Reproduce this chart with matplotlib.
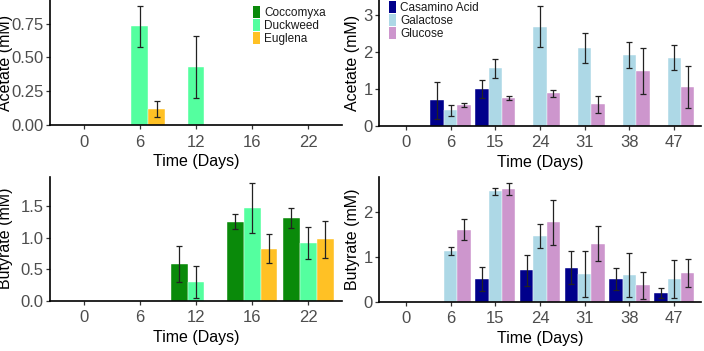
import matplotlib
matplotlib.use("Agg")
import matplotlib.pyplot as plt
from matplotlib.patches import Patch
import numpy as np

# ---------------- data ----------------
algae_days = ["0", "6", "12", "16", "22"]
algae_groups = ["Coccomyxa", "Duckweed", "Euglena"]
algae_colors = ["#0A8A0A", "#54FF9F", "#FFC125"]

acetate_algae = {
    "Coccomyxa": [0, 0, 0, 0, 0],
    "Duckweed":  [0, 0.73, 0.43, 0, 0],
    "Euglena":   [0, 0.12, 0, 0, 0],
}
acetate_algae_err = {
    "Coccomyxa": [0, 0, 0, 0, 0],
    "Duckweed":  [0, 0.15, 0.23, 0, 0],
    "Euglena":   [0, 0.06, 0, 0, 0],
}
butyrate_algae = {
    "Coccomyxa": [0, 0, 0.58, 1.25, 1.31],
    "Duckweed":  [0, 0, 0.30, 1.47, 0.91],
    "Euglena":   [0, 0, 0, 0.82, 0.97],
}
butyrate_algae_err = {
    "Coccomyxa": [0, 0, 0.28, 0.12, 0.16],
    "Duckweed":  [0, 0, 0.25, 0.40, 0.25],
    "Euglena":   [0, 0, 0, 0.23, 0.29],
}

sugar_days = ["0", "6", "15", "24", "31", "38", "47"]
sugar_groups = ["Casamino Acid", "Galactose", "Glucose"]
sugar_colors = ["#00008B", "#ADD8E6", "#CD96CD"]

acetate_sugar = {
    "Casamino Acid": [0, 0.68, 0.98, 0, 0, 0, 0],
    "Galactose":     [0, 0.42, 1.55, 2.67, 2.10, 1.91, 1.83],
    "Glucose":       [0, 0.55, 0.75, 0.87, 0.58, 1.47, 1.04],
}
acetate_sugar_err = {
    "Casamino Acid": [0, 0.50, 0.24, 0, 0, 0, 0],
    "Galactose":     [0, 0.15, 0.25, 0.56, 0.40, 0.35, 0.34],
    "Glucose":       [0, 0.05, 0.05, 0.09, 0.23, 0.62, 0.56],
}
butyrate_sugar = {
    "Casamino Acid": [0, 0, 0.50, 0.70, 0.76, 0.50, 0.19],
    "Galactose":     [0, 1.13, 2.46, 1.46, 0.61, 0.59, 0.50],
    "Glucose":       [0, 1.61, 2.52, 1.77, 1.29, 0.37, 0.64],
}
butyrate_sugar_err = {
    "Casamino Acid": [0, 0, 0.27, 0.34, 0.37, 0.25, 0.11],
    "Galactose":     [0, 0.09, 0.07, 0.27, 0.51, 0.49, 0.42],
    "Glucose":       [0, 0.23, 0.13, 0.50, 0.39, 0.30, 0.32],
}

# ---------------- style ----------------
NARROW = ["Liberation Sans Narrow", "Liberation Sans", "DejaVu Sans"]
REG = ["Liberation Sans", "DejaVu Sans"]
plt.rcParams["font.family"] = REG

fig = plt.figure(figsize=(7.04, 3.51), dpi=100)

positions = {
    "tl": [0.0710, 0.6439, 0.4148, 0.3561],
    "bl": [0.0710, 0.1433, 0.4148, 0.3533],
    "tr": [0.5384, 0.6419, 0.4574, 0.3581],
    "br": [0.5384, 0.1405, 0.4574, 0.3553],
}


def panel(rect, days, groups, colors, vals, errs, ylabel, yticks, yfmt,
          ylab_x, legend=None):
    ax = fig.add_axes(rect)
    x = np.arange(1, len(days) + 1)
    w = 0.3
    top = 0
    for i, g in enumerate(groups):
        v = np.array(vals[g], dtype=float)
        e = np.array(errs[g], dtype=float)
        xs = x + (i - 1) * w
        ax.bar(xs, v, width=w, color=colors[i], edgecolor="white",
               linewidth=0.3, zorder=2)
        m = e > 0
        ax.errorbar(xs[m], v[m], yerr=e[m], fmt="none", ecolor="#222222",
                    elinewidth=0.9, capsize=2.5, capthick=0.9, zorder=3)
        top = max(top, (v + e).max())
    ax.set_xlim(0.4, len(days) + 0.6)
    ax.set_ylim(0, top * 1.05)
    ax.set_xticks(x)
    ax.set_xticklabels(days)
    ax.set_yticks(yticks)
    ax.set_yticklabels([yfmt.format(t) for t in yticks])
    for lab in ax.get_xticklabels() + ax.get_yticklabels():
        lab.set_family(NARROW)
        lab.set_fontsize(12)
        lab.set_color("#4D4D4D")
    ax.tick_params(axis="both", direction="out", length=3, width=0.9,
                   color="#333333")
    ax.tick_params(axis="x", pad=4)
    ax.tick_params(axis="y", pad=1.5)
    for s in ["top", "right"]:
        ax.spines[s].set_visible(False)
    for s in ["left", "bottom"]:
        ax.spines[s].set_linewidth(1.2)
        ax.spines[s].set_color("black")
    ax.set_xlabel("Time (Days)", fontsize=11.5, color="black", labelpad=3)
    ax.set_ylabel(ylabel, fontsize=11.5, color="black")
    ax.yaxis.set_label_coords(ylab_x, 0.5)
    if legend is not None:
        handles = [Patch(facecolor=c, edgecolor="none") for c in colors]
        leg = ax.legend(handles, groups, loc="upper left",
                        bbox_to_anchor=legend, frameon=False,
                        handlelength=0.6, handleheight=1.2,
                        handletextpad=0.35, labelspacing=0.0,
                        borderaxespad=0, borderpad=0,
                        prop={"family": NARROW, "size": 8.5})
        for t in leg.get_texts():
            t.set_color("#1a1a1a")
    return ax


panel(positions["tl"], algae_days, algae_groups, algae_colors,
      acetate_algae, acetate_algae_err, "Acetate (mM)",
      [0, 0.25, 0.5, 0.75], "{:.2f}", -0.125, legend=(0.695, 0.95))
panel(positions["bl"], algae_days, algae_groups, algae_colors,
      butyrate_algae, butyrate_algae_err, "Butyrate (mM)",
      [0, 0.5, 1.0, 1.5], "{:.1f}", -0.125)
panel(positions["tr"], sugar_days, sugar_groups, sugar_colors,
      acetate_sugar, acetate_sugar_err, "Acetate (mM)",
      [0, 1, 2, 3], "{:d}", -0.06, legend=(0.03, 0.99))
panel(positions["br"], sugar_days, sugar_groups, sugar_colors,
      butyrate_sugar, butyrate_sugar_err, "Butyrate (mM)",
      [0, 1, 2], "{:d}", -0.06)

fig.savefig("out.png", dpi=100)
